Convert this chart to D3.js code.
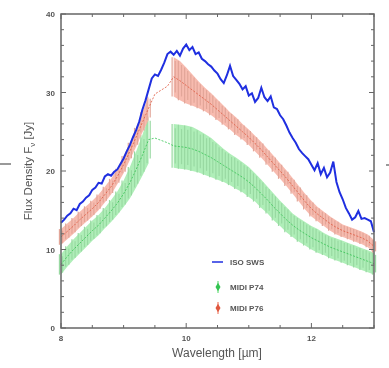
<!DOCTYPE html>
<html>
<head>
<meta charset="utf-8">
<script src="https://cdn.jsdelivr.net/npm/d3@7"></script>
<style>
  html, body { margin: 0; padding: 0; background: #fff; }
  svg { display: block; filter: blur(0.5px); }
  text { font-family: "Liberation Sans", Arial, sans-serif; fill: #555; }
</style>
</head>
<body>
<svg id="chart" width="389" height="368"></svg>
<script>
// ISO SWS spectrum (wavelength in micron, flux in Jy)
var isoWave = [8.00,8.05,8.10,8.15,8.20,8.25,8.30,8.35,8.40,8.45,8.50,8.55,8.60,8.65,8.70,8.75,8.80,8.85,8.90,8.95,
  9.00,9.05,9.10,9.15,9.20,9.25,9.30,9.35,9.40,9.45,9.50,9.55,9.60,9.65,9.70,9.75,9.80,9.85,9.90,9.95,
  10.00,10.05,10.10,10.15,10.20,10.25,10.30,10.35,10.40,10.45,10.50,10.55,10.60,10.65,10.70,10.75,10.80,10.85,10.90,10.95,
  11.00,11.05,11.10,11.15,11.20,11.25,11.30,11.35,11.40,11.45,11.50,11.55,11.60,11.65,11.70,11.75,11.80,11.85,11.90,11.95,
  12.00,12.05,12.10,12.15,12.20,12.25,12.30,12.35,12.40,12.45,12.50,12.55,12.60,12.65,12.70,12.75,12.80,12.85,12.90,12.95,13.00];
var isoFlux = [13.4,13.8,14.3,14.6,15.2,15.0,15.8,16.1,16.6,16.9,17.6,17.9,18.5,18.4,19.3,19.6,19.4,19.9,20.2,20.9,
  21.6,22.5,23.3,24.3,25.2,26.3,27.8,29.0,30.4,31.8,32.3,32.1,32.9,33.8,34.9,35.2,34.8,35.3,34.7,35.6,
  36.1,35.4,35.8,34.9,35.1,34.3,34.0,33.6,33.3,32.8,32.4,31.7,31.2,32.2,33.4,32.1,31.6,31.1,30.4,30.8,
  29.6,29.9,28.8,29.3,30.6,29.4,28.9,29.5,28.1,27.9,27.1,26.6,25.8,24.9,24.2,23.6,22.8,22.3,21.9,21.5,
  20.8,20.1,21.0,19.6,20.4,19.2,19.8,21.2,18.6,17.3,16.4,15.3,14.6,13.8,14.1,14.9,13.9,14.0,13.8,13.6,12.2];

// MIDI spectra on a 0.1 micron grid; error 0 = atmospheric gap (no bars)
var midiWave = [8.0,8.1,8.2,8.3,8.4,8.5,8.6,8.7,8.8,8.9,9.0,9.1,9.2,9.3,9.4,9.5,9.6,9.7,9.8,9.9,
  10.0,10.1,10.2,10.3,10.4,10.5,10.6,10.7,10.8,10.9,11.0,11.1,11.2,11.3,11.4,11.5,11.6,11.7,11.8,11.9,
  12.0,12.1,12.2,12.3,12.4,12.5,12.6,12.7,12.8,12.9,13.0];
var p74Flux = [8.1,9.1,10.0,10.8,11.6,12.4,13.1,14.0,14.9,15.9,17.1,18.5,20.2,22.0,24.0,24.2,23.9,23.6,23.2,23.1,
  23.0,22.8,22.5,22.1,21.7,21.2,20.7,20.2,19.7,19.2,18.6,17.9,17.1,16.3,15.4,14.6,13.8,13.1,12.5,12.0,
  11.5,11.1,10.7,10.3,10.0,9.7,9.4,9.1,8.8,8.5,8.2];
var p74Err = [1.3,1.3,1.3,1.3,1.3,1.3,1.3,1.3,1.4,1.5,1.7,2.0,2.3,2.6,3.0,0,0,0,2.8,2.8,
  2.8,2.8,2.7,2.6,2.5,2.3,2.1,2.0,2.0,1.9,1.9,1.8,1.8,1.7,1.7,1.6,1.6,1.5,1.5,1.5,
  1.5,1.5,1.4,1.4,1.4,1.4,1.4,1.4,1.4,1.4,1.4];
var p76Flux = [11.6,12.3,13.0,13.8,14.5,15.2,16.0,17.0,18.0,19.3,20.8,22.5,24.3,26.2,28.0,29.8,30.3,30.8,32.0,31.5,
  30.9,30.3,29.7,29.1,28.5,27.8,27.1,26.4,25.7,25.0,24.3,23.5,22.7,21.8,20.9,20.0,19.1,18.1,17.1,16.1,
  15.2,14.5,13.9,13.3,12.8,12.4,12.1,11.8,11.5,11.1,10.4];
var p76Err = [1.0,1.0,1.0,1.0,1.0,1.0,1.0,1.0,1.0,1.0,1.1,1.1,1.2,1.3,1.5,0,0,0,2.5,2.5,
  2.3,2.0,1.7,1.5,1.4,1.3,1.2,1.1,1.1,1.0,1.0,1.0,1.0,1.0,1.0,1.0,1.0,1.0,1.0,1.0,
  1.0,0.9,0.9,0.9,0.9,0.8,0.8,0.8,0.8,0.8,0.8];

var xTicks = [8, 10, 12];
var yTicks = [0, 10, 20, 30, 40];
var legendNames = ["ISO SWS", "MIDI P74", "MIDI P76"];

var svg = d3.select("#chart"),
    m = {left: 61, top: 14, right: 374, bottom: 328};

var x = d3.scaleLinear().domain([8, 13]).range([m.left, m.right]),
    y = d3.scaleLinear().domain([0, 40]).range([m.bottom, m.top]);

var blue = "#1f2fe0",
    greenBand = "#a6ecb0", greenLine = "#35c452",
    redBand = "#f6b4a6", redLine = "#e0583f";

var plot = svg.append("g");

function midi(flux, err, band, line) {
    var pts = midiWave.map(function (w, i) { return {w: w, f: flux[i], e: err[i]}; });
    var withErr = pts.filter(function (d) { return d.e > 0; });

    // error envelope, broken over the atmospheric gap
    plot.append("path").datum(pts)
        .attr("d", d3.area()
            .defined(function (d) { return d.e > 0; })
            .x(function (d) { return x(d.w); })
            .y0(function (d) { return y(d.f - d.e); })
            .y1(function (d) { return y(d.f + d.e); }))
        .style("fill", band).style("opacity", 0.9);

    // error bar strokes, two per grid step so the band looks hatched
    var bars = [];
    withErr.forEach(function (d) {
        bars.push({w: d.w - 0.025, f: d.f, e: d.e});
        bars.push({w: d.w + 0.025, f: d.f, e: d.e * 0.8});
    });
    plot.append("g").selectAll("line").data(bars).enter().append("line")
        .attr("x1", function (d) { return x(d.w); })
        .attr("x2", function (d) { return x(d.w); })
        .attr("y1", function (d) { return y(d.f + d.e); })
        .attr("y2", function (d) { return y(d.f - d.e); })
        .style("stroke", band).style("stroke-width", 1.2)
        .style("filter", "brightness(0.92)");

    plot.append("path").datum(pts)
        .attr("d", d3.line().x(function (d) { return x(d.w); }).y(function (d) { return y(d.f); }))
        .style("fill", "none").style("stroke", line)
        .style("stroke-width", 1).style("stroke-dasharray", "2,1.5").style("opacity", 0.8);
}

midi(p74Flux, p74Err, greenBand, greenLine);
midi(p76Flux, p76Err, redBand, redLine);

plot.append("path").datum(d3.zip(isoWave, isoFlux))
    .attr("d", d3.line().x(function (d) { return x(d[0]); }).y(function (d) { return y(d[1]); }))
    .style("fill", "none").style("stroke", blue).style("stroke-width", 2);

// frame and inward ticks
var axisColor = "#666";
svg.append("rect")
    .attr("x", m.left).attr("y", m.top)
    .attr("width", m.right - m.left).attr("height", m.bottom - m.top)
    .style("fill", "none").style("stroke", axisColor).style("stroke-width", 1.5);

var ticks = svg.append("g").style("stroke", axisColor).style("stroke-width", 1);
d3.range(8, 13.01, 0.5).forEach(function (v) {
    var len = Math.abs(v - Math.round(v / 2) * 2) < 1e-6 ? 5 : 3;
    ticks.append("line").attr("x1", x(v)).attr("x2", x(v)).attr("y1", m.bottom).attr("y2", m.bottom - len);
    ticks.append("line").attr("x1", x(v)).attr("x2", x(v)).attr("y1", m.top).attr("y2", m.top + len);
});
d3.range(0, 40.01, 2).forEach(function (v) {
    var len = v % 10 === 0 ? 5 : 3;
    ticks.append("line").attr("y1", y(v)).attr("y2", y(v)).attr("x1", m.left).attr("x2", m.left + len);
    ticks.append("line").attr("y1", y(v)).attr("y2", y(v)).attr("x1", m.right).attr("x2", m.right - len);
});

svg.append("g").selectAll("text").data(xTicks).enter().append("text")
    .attr("x", function (d) { return x(d); }).attr("y", m.bottom + 13)
    .attr("text-anchor", "middle").style("font-size", "8px").style("font-weight", "bold")
    .text(function (d) { return d; });
svg.append("g").selectAll("text").data(yTicks).enter().append("text")
    .attr("x", m.left - 6).attr("y", function (d) { return y(d) + 3; })
    .attr("text-anchor", "end").style("font-size", "8px").style("font-weight", "bold")
    .text(function (d) { return d; });

svg.append("text").attr("x", 217).attr("y", 357).attr("text-anchor", "middle")
    .style("font-size", "12px").text("Wavelength [\u00b5m]");
var yt = svg.append("text").attr("transform", "translate(32,171) rotate(-90)")
    .attr("text-anchor", "middle").style("font-size", "11.5px");
yt.append("tspan").text("Flux Density F");
yt.append("tspan").attr("dy", 3).style("font-size", "8px").text("\u03bd");
yt.append("tspan").attr("dy", -3).text(" [Jy]");

// legend
var lg = svg.append("g");
var ly = [262, 287, 308];
lg.append("line").attr("x1", 212).attr("x2", 223).attr("y1", ly[0]).attr("y2", ly[0])
    .style("stroke", blue).style("stroke-width", 1.5);
[[greenBand, greenLine], [redBand, redLine]].forEach(function (c, i) {
    var cy = ly[i + 1], cx = 218;
    lg.append("line").attr("x1", cx).attr("x2", cx).attr("y1", cy - 6).attr("y2", cy + 6)
        .style("stroke", c[0]).style("stroke-width", 2);
    lg.append("path").attr("d", d3.symbol().type(d3.symbolDiamond).size(22)())
        .attr("transform", "translate(" + cx + "," + cy + ")").style("fill", c[1]);
});
lg.selectAll("text").data(legendNames).enter().append("text")
    .attr("x", 230).attr("y", function (d, i) { return ly[i] + 3; })
    .style("font-size", "8px").style("font-weight", "bold").text(function (d) { return d; });

// stray marks at the page margins
svg.append("line").attr("x1", 0).attr("x2", 11).attr("y1", 164).attr("y2", 164)
    .style("stroke", "#777").style("stroke-width", 1.5);
svg.append("line").attr("x1", 386).attr("x2", 389).attr("y1", 165).attr("y2", 165)
    .style("stroke", "#777").style("stroke-width", 1.5);
</script>
</body>
</html>
